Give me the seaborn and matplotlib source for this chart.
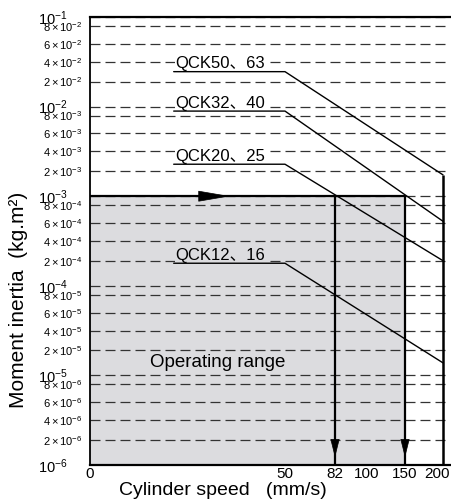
import numpy as np
import pandas as pd
import seaborn as sns
import matplotlib
matplotlib.use("Agg")
import matplotlib.pyplot as plt
from matplotlib.transforms import ScaledTranslation

# values
models = ["QCK50、63", "QCK32、40", "QCK20、25", "QCK12、16"]
inertia_flat = [3.0e-2, 9.0e-3, 2.7e-3, 1.9e-4]      # kg.m2 up to 50 mm/s
inertia_at_max = [1.85e-3, 6.2e-4, 2.0e-4, 1.5e-5]   # kg.m2 at 200 mm/s
speed_pts = [21.5, 50, 200]                         # label start, knee, max speed

range_speed = [0, 150]
range_inertia = [1e-6, 1e-3]
arrow_speeds = [82, 150]

x_ticks = [0, 50, 82, 100, 150, 200]
x_grid = [50, 100, 150, 200]
y_major = [10.0 ** e for e in range(-6, 0)]
y_minor = [m * 10.0 ** e for e in range(-6, -1) for m in (2, 4, 6, 8)]
y_major_labels = [f"$10^{{{e}}}$" for e in range(-6, 0)]
y_minor_labels = [f"${m}\\times10^{{{e}}}$" for e in range(-6, -1) for m in (2, 4, 6, 8)]

GRAY = "#dcdcdf"

# the printed chart is ruled by hand: neither axis is truly linear / log
X_KNOTS = np.array([0, 50, 82, 100, 150, 200, 209], dtype=float)
X_PIX = np.array([89.7, 285, 335, 367, 405, 443, 450], dtype=float)


def x_fwd(v):
    v = np.asarray(v, dtype=float)
    out = np.interp(v, X_KNOTS, X_PIX)
    out = np.where(v < X_KNOTS[0], X_PIX[0] + (v - X_KNOTS[0]) * 3.906, out)
    out = np.where(v > X_KNOTS[-1], X_PIX[-1] + (v - X_KNOTS[-1]) * 0.76, out)
    return out


def x_inv(p):
    p = np.asarray(p, dtype=float)
    out = np.interp(p, X_PIX, X_KNOTS)
    out = np.where(p < X_PIX[0], X_KNOTS[0] + (p - X_PIX[0]) / 3.906, out)
    out = np.where(p > X_PIX[-1], X_KNOTS[-1] + (p - X_PIX[-1]) / 0.76, out)
    return out


MANT = np.array([1, 2, 4, 6, 8, 10], dtype=float)
FRAC = np.array([0, 0.28, 0.5, 0.7, 0.9, 1.0])


def y_fwd(v):
    v = np.clip(np.asarray(v, dtype=float), 1e-12, None)
    e = np.floor(np.log10(v))
    return e + np.interp(v / 10.0 ** e, MANT, FRAC)


def y_inv(t):
    t = np.asarray(t, dtype=float)
    e = np.floor(t)
    return np.interp(t - e, FRAC, MANT) * 10.0 ** e


sns.set_theme(style="white")
plt.rcParams["font.family"] = ["Liberation Sans", "Noto Sans CJK SC"]
plt.rcParams["mathtext.fontset"] = "custom"
plt.rcParams["mathtext.rm"] = "Liberation Sans"
plt.rcParams["mathtext.it"] = "Liberation Sans:italic"
plt.rcParams["lines.scale_dashes"] = False

fig = plt.figure(figsize=(4.51, 5.03), dpi=100)
ax = fig.add_axes([0.1989, 0.0755, 0.7989, 0.8907])
ax.set_xscale("function", functions=(x_fwd, x_inv))
ax.set_yscale("function", functions=(y_fwd, y_inv))

rows = []
for name, lo, hi in zip(models, inertia_flat, inertia_at_max):
    for s, v in zip(speed_pts, [lo, lo, hi]):
        rows.append({"model": name, "speed": s, "inertia": v})
df = pd.DataFrame(rows)

sns.lineplot(data=df, x="speed", y="inertia", units="model", estimator=None,
             sort=False, color="black", lw=1.0, ax=ax, zorder=4)

# operating range
ax.fill_between(range_speed, range_inertia[0], range_inertia[1],
                color=GRAY, lw=0, zorder=0.5)
ax.plot(range_speed, [range_inertia[1]] * 2, color="black", lw=1.6, zorder=5)
ax.annotate("", xy=(35.9, range_inertia[1]), xytext=(28.2, range_inertia[1]),
            arrowprops=dict(arrowstyle="-|>,head_length=2.1,head_width=0.36",
                            fc="black", ec="black", lw=0.5, shrinkA=0, shrinkB=0,
                            mutation_scale=10), zorder=6)
ax.vlines(arrow_speeds, range_inertia[0], range_inertia[1], color="black", lw=1.6, zorder=5)
for s in arrow_speeds:
    ax.annotate("", xy=(s, 1.3e-6), xytext=(s, 2.2e-6),
                arrowprops=dict(arrowstyle="-|>,head_length=1.2,head_width=0.3",
                                fc="black", ec="black", lw=0.5, shrinkA=0, shrinkB=0,
                                mutation_scale=10), zorder=6)
ax.vlines(speed_pts[-1], range_inertia[0], inertia_at_max[0], color="black", lw=1.8, zorder=5)

for name, lo in zip(models, inertia_flat):
    bg = GRAY if lo < range_inertia[1] else "white"
    ax.annotate(name, xy=(22, lo), xytext=(0, 2.5), textcoords="offset points",
                ha="left", va="baseline", fontsize=12, color="black", zorder=3,
                bbox=dict(boxstyle="square,pad=0.05", fc=bg, ec="none"))

ax.text(15.5, 1.5e-5, "Operating range", fontsize=13.5, color="black",
        ha="left", va="center", zorder=3)

ax.set_xlim(0, 209)
ax.set_ylim(1e-6, 1e-1)

ax.set_xticks(x_ticks, [str(t) for t in x_ticks])
ax.set_xticks(x_grid, minor=True)
ax.set_yticks(y_major, y_major_labels)
ax.set_yticks(y_minor, y_minor_labels, minor=True)

ax.grid(False)
ax.grid(True, axis="y", which="both", color="#333333", lw=0.9,
        linestyle=(0, (7.2, 3.6)), zorder=1.5)
ax.grid(True, axis="x", which="minor", color="#333333", lw=0.9,
        linestyle=(0, (5.8, 2.9)), zorder=1.5)

ax.tick_params(axis="both", which="both", length=0, colors="black")
ax.tick_params(axis="x", which="major", labelsize=11, pad=1.5)
ax.tick_params(axis="y", which="major", labelsize=10.5, pad=16)
ax.tick_params(axis="y", which="minor", labelsize=8, pad=5.5)

lab200 = ax.get_xticklabels()[-1]
lab200.set_transform(lab200.get_transform() + ScaledTranslation(-0.06, 0, fig.dpi_scale_trans))

ax.set_xlabel("Cylinder speed   (mm/s)", fontsize=14, color="black")
ax.xaxis.set_label_coords(0.37, -0.038)
ax.set_ylabel("Moment inertia  (kg.m²)", fontsize=15, color="black")
ax.yaxis.set_label_coords(-0.172, 0.368)

for side in ["top", "left", "bottom"]:
    ax.spines[side].set_visible(True)
    ax.spines[side].set_color("black")
ax.spines["top"].set_linewidth(1.6)
ax.spines["left"].set_linewidth(1.3)
ax.spines["bottom"].set_linewidth(1.6)
ax.spines["right"].set_visible(False)

fig.savefig("out.png", dpi=100)
